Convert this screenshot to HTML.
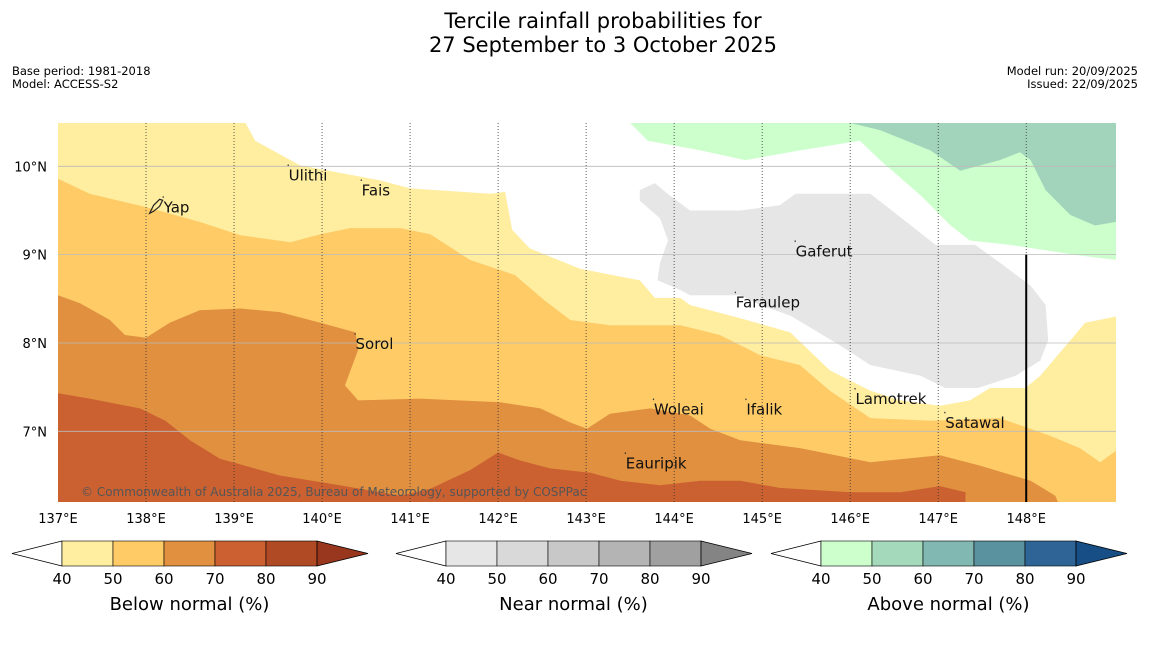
<!DOCTYPE html>
<html><head><meta charset="utf-8">
<style>
body{margin:0;background:#fff;width:1150px;height:644px;overflow:hidden;font-family:"DejaVu Sans","Liberation Sans",sans-serif;}
svg text{font-family:"DejaVu Sans","Liberation Sans",sans-serif;}
</style></head>
<body>
<svg id="c" width="1150" height="644">
<text x="603" y="28" font-size="21" text-anchor="middle">Tercile rainfall probabilities for</text>
<text x="603" y="52" font-size="21" text-anchor="middle">27 September to 3 October 2025</text>
<text x="12" y="75" font-size="11.5">Base period: 1981-2018</text>
<text x="12" y="88" font-size="11.5">Model: ACCESS-S2</text>
<text x="1138" y="75" font-size="11.5" text-anchor="end">Model run: 20/09/2025</text>
<text x="1138" y="88" font-size="11.5" text-anchor="end">Issued: 22/09/2025</text>
<g id="map"></g>
<g id="cb"></g>
</svg>
<script>
const lonTicks=[137,138,139,140,141,142,143,144,145,146,147,148];
const latTicks=[10,9,8,7];
const cbTicks=[40,50,60,70,80,90];
const yellowEdge=[[139.13,10.49],[139.24,10.29],[139.75,10.01],[140.66,9.84],[141.0,9.75],[141.91,9.69],[142.08,9.71],[142.16,9.28],[142.36,9.07],[142.93,8.84],[143.61,8.71],[143.78,8.51],[144.07,8.51],[144.18,8.43],[144.75,8.28],[145.32,8.12],[145.77,7.69],[146.23,7.46],[146.57,7.35],[147.02,7.29],[147.36,7.35],[147.59,7.49],[147.99,7.49],[148.16,7.63],[148.67,8.23],[149.02,8.30],[149.02,6.2],[137,6.2],[137,10.49]];
const orange50=[[137,9.86],[137.36,9.69],[137.99,9.54],[138.61,9.37],[139.07,9.22],[139.64,9.14],[139.98,9.23],[140.32,9.30],[140.89,9.30],[141.23,9.23],[141.68,8.94],[142.19,8.77],[142.53,8.48],[142.82,8.26],[143.27,8.20],[144.07,8.20],[144.52,8.09],[144.98,7.86],[145.43,7.75],[145.77,7.46],[146.23,7.15],[146.91,7.12],[147.70,7.15],[148.27,6.95],[148.61,6.81],[148.84,6.65],[149.02,6.78],[149.02,6.2],[137,6.2]];
const orange60=[[137,8.54],[137.25,8.45],[137.59,8.26],[137.76,8.09],[138.0,8.06],[138.27,8.23],[138.61,8.37],[139.07,8.39],[139.52,8.35],[139.98,8.23],[140.38,8.12],[140.41,7.92],[140.26,7.52],[140.41,7.35],[141.11,7.37],[142.02,7.33],[142.48,7.26],[142.82,7.10],[143.01,7.03],[143.27,7.20],[143.73,7.26],[144.18,7.18],[144.41,7.03],[144.75,6.90],[145.43,6.81],[146.23,6.65],[147.02,6.73],[147.48,6.61],[148.05,6.44],[148.33,6.27],[148.36,6.2],[137,6.2]];
const orange70=[[137,7.43],[137.36,7.37],[137.93,7.26],[138.22,7.12],[138.5,6.9],[138.84,6.69],[139.52,6.5],[140.2,6.39],[140.89,6.27],[141.23,6.35],[141.68,6.56],[142.0,6.76],[142.25,6.67],[142.59,6.58],[143.05,6.53],[143.39,6.44],[143.84,6.39],[144.3,6.44],[144.75,6.44],[145.2,6.36],[146.0,6.31],[146.57,6.31],[147.02,6.38],[147.31,6.31],[147.31,6.2],[137,6.2]];
const green40=[[143.5,10.49],[143.7,10.29],[144.3,10.18],[144.81,10.07],[145.43,10.18],[146.11,10.29],[146.34,10.07],[146.8,9.67],[147.14,9.33],[147.36,9.16],[147.82,9.11],[148.61,8.99],[149.02,8.94],[149.02,10.49]];
const green50=[[146.0,10.49],[149.02,10.49],[149.02,9.37],[148.78,9.33],[148.5,9.45],[148.22,9.73],[148.05,10.07],[147.93,10.16],[147.7,10.07],[147.25,9.95],[146.91,10.18],[146.34,10.41]];
const gray40=[[143.61,9.73],[143.78,9.81],[143.95,9.67],[144.18,9.5],[144.75,9.5],[145.2,9.56],[145.38,9.69],[146.23,9.69],[146.97,9.11],[147.42,9.11],[147.7,8.91],[148.05,8.65],[148.22,8.43],[148.25,8.03],[148.16,7.8],[147.88,7.63],[147.45,7.49],[147.08,7.49],[146.8,7.63],[146.23,7.75],[145.89,7.97],[145.32,8.31],[144.98,8.43],[144.75,8.54],[144.18,8.54],[144.07,8.6],[143.81,8.71],[143.84,8.91],[143.93,9.16],[143.84,9.41],[143.61,9.61]];
const placeNames=["Yap","Ulithi","Fais","Gaferut","Faraulep","Sorol","Lamotrek","Satawal","Woleai","Ifalik","Eauripik"];
const placeLon=[138.2,139.62,140.45,145.38,144.7,140.38,146.06,147.08,143.77,144.82,143.45];
const placeLat=[9.57,9.93,9.76,9.07,8.49,8.02,7.4,7.13,7.28,7.28,6.67];

const NS="http://www.w3.org/2000/svg";
const X0=58,X1=1116,Y0=123,Y1=502;
const lonMin=137,lonMax=149.02,latMin=6.2,latMax=10.49;
const sx=l=>X0+(l-lonMin)/(lonMax-lonMin)*(X1-X0);
const sy=l=>Y1-(l-latMin)/(latMax-latMin)*(Y1-Y0);
function mk(tag,attrs,parent){const e=document.createElementNS(NS,tag);for(const k in attrs)e.setAttribute(k,attrs[k]);parent.appendChild(e);return e;}
const map=document.getElementById('map');
const clip=mk('clipPath',{id:'mc'},map);
mk('rect',{x:X0,y:Y0,width:X1-X0,height:Y1-Y0},clip);
const g=mk('g',{'clip-path':'url(#mc)'},map);
let bg=mk('rect',{x:X0,y:Y0,width:X1-X0,height:Y1-Y0,fill:'#ffffff'},g);


function poly(pts,fill,name){
  const p=mk('polygon',{points:pts.map(q=>sx(q[0]).toFixed(1)+','+sy(q[1]).toFixed(1)).join(' '),fill:fill},g);
  
  
}
poly(yellowEdge,'#ffeda0','below-40-50-region');
poly(orange50,'#fecb67','below-50-60-region');
poly(orange60,'#e0903f','below-60-70-region');
poly(orange70,'#cb6131','below-70-80-region');
poly(green40,'#ccffcc','above-40-50-region');
poly(green50,'#a2d4bb','above-50-60-region');
poly(gray40,'#e6e6e6','near-40-50-region');
latTicks.forEach(v=>{
  const l=mk('line',{x1:X0,x2:X1,y1:sy(v),y2:sy(v),stroke:'#bbbbbb','stroke-width':0.8},g);
  
  
  const t=mk('text',{x:47,y:sy(v)+5,'font-size':13,'text-anchor':'end'},map);
  t.textContent=v+'°N';
  
  
});
lonTicks.forEach(v=>{
  if(v>lonMin){
    const l=mk('line',{x1:sx(v),x2:sx(v),y1:Y0,y2:Y1,stroke:'#333','stroke-width':0.8,'stroke-dasharray':'1,2'},g);
    
    
  }
  const t=mk('text',{x:sx(v),y:523,'font-size':13,'text-anchor':'middle'},map);
  t.textContent=v+'°E';
  
  
});
let bl=mk('line',{x1:sx(148),x2:sx(148),y1:sy(9),y2:Y1,stroke:'#000','stroke-width':2},g);


placeNames.forEach((n,i)=>{
  const x=sx(placeLon[i]),y=sy(placeLat[i]);
  const d=mk('rect',{x:x-1,y:y-8,width:1.2,height:1.5,fill:'#333'},map);
  
  
  const t=mk('text',{x:x,y:y+8,'font-size':15,fill:'#111'},map);
  t.textContent=n;
  
  
});
let yi=mk('path',{d:'M'+(sx(138.2)-14)+','+(sy(9.57)+9)+' l4,-8 l6,-6 l3,1 l-3,6 l-6,5 z',fill:'none',stroke:'#222','stroke-width':1.2},map);


let cp=mk('text',{x:81,y:496,'font-size':12,fill:'#555'},map);
cp.textContent='© Commonwealth of Australia 2025, Bureau of Meteorology, supported by COSPPac';



const cb=document.getElementById('cb');
const bars=[
 {x:62,cols:['#ffeda0','#fecb67','#e0903f','#cc6030','#b04a24'],tip:'#99361e',title:'Below normal (%)',name:'below-normal'},
 {x:446,cols:['#e6e6e6','#d9d9d9','#c8c8c8','#b4b4b4','#a0a0a0'],tip:'#848484',title:'Near normal (%)',name:'near-normal'},
 {x:821,cols:['#ccffcc','#a5d9bb','#82b8b2','#5a92a0','#2e6496'],tip:'#164e85',title:'Above normal (%)',name:'above-normal'}];
const bw=51,yt=541,yb=566;
bars.forEach(b=>{
  const gg=mk('g',{},cb);
  
  
  const lt=mk('polygon',{points:`${b.x-50},${(yt+yb)/2} ${b.x},${yt} ${b.x},${yb}`,fill:'#fff',stroke:'#000','stroke-width':0.8},gg);
  
  
  b.cols.forEach((c,i)=>{
    const r=mk('rect',{x:b.x+i*bw,y:yt,width:bw,height:yb-yt,fill:c,stroke:'#000','stroke-width':0.6},gg);
    
    
  });
  const e=b.x+5*bw;
  const rt=mk('polygon',{points:`${e},${yt} ${e+51},${(yt+yb)/2} ${e},${yb}`,fill:b.tip,stroke:'#000','stroke-width':0.8},gg);
  
  
  cbTicks.forEach((v,i)=>{
    const t=mk('text',{x:b.x+i*bw,y:584,'font-size':15,'text-anchor':'middle'},gg);
    t.textContent=v;
    
    
  });
  const t=mk('text',{x:b.x+2.5*bw,y:610,'font-size':18,'text-anchor':'middle'},gg);
  t.textContent=b.title;
  
  
});
</script>
</body></html>
